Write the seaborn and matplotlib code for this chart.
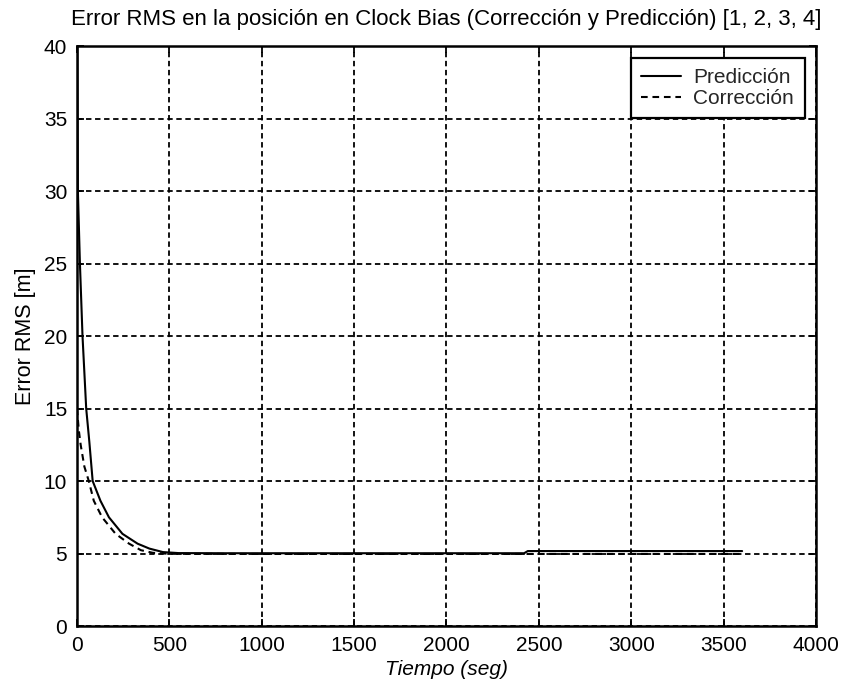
import matplotlib
matplotlib.use("Agg")
import matplotlib.pyplot as plt
import pandas as pd
import seaborn as sns

# RMS clock-bias error over time for the prediction and correction steps
t_pred = [0, 2, 5, 16, 30, 50, 67, 85, 127, 173, 246, 328, 392, 465, 550,
          800, 1200, 1600, 2000, 2420, 2440, 2800, 3200, 3600]
e_pred = [50, 40, 30, 25, 20, 15, 12.7, 10, 8.64, 7.5, 6.36, 5.68, 5.34, 5.1, 5.03,
          5.02, 5.02, 5.02, 5.02, 5.02, 5.17, 5.17, 5.17, 5.17]
t_corr = [0, 10, 20, 40, 64, 91, 136, 209, 282, 346, 410, 500,
          1000, 2000, 3000, 3600]
e_corr = [15.0, 13.5, 12.5, 11.0, 10.0, 8.64, 7.5, 6.36, 5.68, 5.23, 5.05, 4.98,
          4.97, 4.97, 4.97, 4.97]

series_names = ["Predicción", "Corrección"]
x_ticks = [0, 500, 1000, 1500, 2000, 2500, 3000, 3500, 4000]
y_ticks = [0, 5, 10, 15, 20, 25, 30, 35, 40]

title = "Error RMS en la posición en Clock Bias (Corrección y Predicción) [1, 2, 3, 4]"
x_label = "Tiempo (seg)"
y_label = "Error RMS [m]"

df = pd.concat([
    pd.DataFrame({"t": t_pred, "err": e_pred, "serie": series_names[0]}),
    pd.DataFrame({"t": t_corr, "err": e_corr, "serie": series_names[1]}),
], ignore_index=True)

sns.set_style("ticks")
plt.rcParams["font.family"] = ["Liberation Sans", "DejaVu Sans"]
plt.rcParams["font.size"] = 15

fig = plt.figure(figsize=(8.43, 6.88), dpi=100)
ax = fig.add_axes([0.0913, 0.0901, 0.968 - 0.0913, 0.933 - 0.0901])

sns.lineplot(
    data=df, x="t", y="err", style="serie", style_order=series_names,
    dashes={series_names[0]: "", series_names[1]: (3.2, 2.3)},
    color="black", linewidth=1.5, estimator=None, sort=False, ax=ax,
)

ax.set_xlim(0, 4000)
ax.set_ylim(0, 40)
ax.set_xticks(x_ticks)
ax.set_yticks(y_ticks)
ax.set_xticklabels([str(v) for v in x_ticks])
ax.set_yticklabels([str(v) for v in y_ticks])

ax.grid(True, color="black", linestyle=(0, (3.0, 2.0)), linewidth=1.3)
ax.set_axisbelow(True)

for s in ax.spines.values():
    s.set_visible(True)
    s.set_color("black")
    s.set_linewidth(1.8)

ax.tick_params(axis="both", direction="in", length=5, width=1.3, colors="black",
               top=True, right=True, labelsize=15, pad=7)

ax.set_title(title, fontsize=16, color="black", pad=15)
ax.set_xlabel(x_label, fontsize=15, fontstyle="italic", color="black", labelpad=4)
ax.set_ylabel(y_label, fontsize=15.5, color="black", labelpad=6)

leg = ax.legend(
    loc="upper right", frameon=True, fancybox=False, framealpha=1,
    edgecolor="black", fontsize=15, handlelength=1.9, handletextpad=0.6,
    borderpad=0.5, labelspacing=0.1, borderaxespad=0.55, title=None,
)
leg.get_frame().set_linewidth(1.6)
for line in leg.get_lines():
    line.set_linewidth(1.5)

fig.savefig("out.png", dpi=100, facecolor="white")
